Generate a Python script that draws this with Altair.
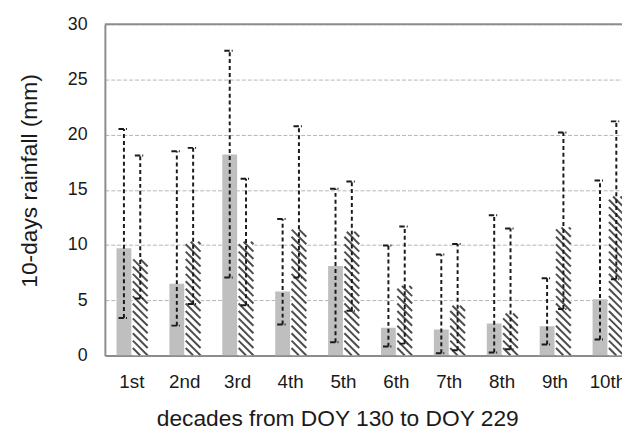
import altair as alt
import pandas as pd

categories = ["1st", "2nd", "3rd", "4th", "5th", "6th", "7th", "8th", "9th", "10th"]

gray_mean = [9.7, 6.5, 18.2, 5.8, 8.1, 2.5, 2.35, 2.9, 2.65, 5.1]
gray_lo = [3.4, 2.7, 7.05, 2.8, 1.2, 0.8, 0.2, 0.27, 1.0, 1.45]
gray_hi = [20.5, 18.5, 27.6, 12.35, 15.1, 9.95, 9.15, 12.7, 7.0, 15.85]

hatch_mean = [8.7, 10.3, 10.3, 11.4, 11.2, 6.3, 4.5, 3.8, 11.6, 14.4]
hatch_lo = [5.15, 4.65, 4.55, 7.05, 4.05, 1.07, 0.47, 0.57, 4.2, 6.9]
hatch_hi = [18.1, 18.8, 16.0, 20.75, 15.75, 11.67, 10.1, 11.5, 20.2, 21.2]

y_ticks = [0, 5, 10, 15, 20, 25, 30]

# layout (pixels)
RANGE_W = 535                # full category range (extends past the window edge)
VIEW_W = 523                 # visible plot width
H_PLOT = 335
PXX = RANGE_W / 10.0         # pixels per category step
PXY = H_PLOT / 30.0          # pixels per mm
BAR_W = 15
G0 = -15.0                   # gray bar left offset from group centre
H0 = 1.5                     # hatched bar left offset from group centre
STRIPE = 7.5

FONT = "Liberation Sans"
TXT = "#1a1a1a"
BORDER = "#8c8c8c"

idx = list(range(1, len(categories) + 1))
gray_df = pd.DataFrame({"idx": idx, "cat": categories, "val": gray_mean, "lo": gray_lo, "hi": gray_hi})
hatch_df = pd.DataFrame({"idx": idx, "cat": categories, "val": hatch_mean, "lo": hatch_lo, "hi": hatch_hi})

x_scale = alt.Scale(domain=[0.5, 10.5], range=[0, RANGE_W], nice=False, zero=False)
y_scale = alt.Scale(domain=[0, 30], nice=False)

label_expr = "[" + ",".join("'%s'" % c for c in categories) + "][datum.value - 1]"

x_axis = alt.Axis(
    values=idx, labelExpr=label_expr, grid=False, ticks=False, tickSize=0,
    domainColor=BORDER, domainWidth=2,
    labelFont=FONT, labelFontSize=19, labelColor=TXT,
    labelBaseline="alphabetic", labelPadding=32, labelAngle=0,
    title="decades from DOY 130 to DOY 229",
    titleFont=FONT, titleFontSize=23, titleFontWeight="normal", titleColor=TXT,
    titleX=235, titleY=71, titleBaseline="alphabetic", titleAlign="center",
)
y_axis = alt.Axis(
    values=y_ticks, grid=True, gridDash=[4, 2], gridColor="#b5b5b5", gridWidth=1,
    ticks=False, tickSize=0, domainColor=BORDER, domainWidth=2,
    labelFont=FONT, labelFontSize=18, labelColor=TXT, labelPadding=18,
    title="10-days rainfall (mm)",
    titleFont=FONT, titleFontSize=23, titleFontWeight="normal", titleColor=TXT,
    titleX=-69.5, titleY=158, titleAngle=270, titleBaseline="alphabetic", titleAlign="center",
)


def X(field):
    return alt.X(field, scale=x_scale, axis=x_axis)


def Y(field):
    return alt.Y(field, scale=y_scale, axis=y_axis)


# gray bars
gray_bars = alt.Chart(gray_df).transform_calculate(
    bx1=f"datum.idx + {G0}/{PXX}", bx2=f"datum.idx + {G0 + BAR_W}/{PXX}", base="0"
).mark_bar(color="#bfbfbf", clip=True).encode(
    x=X("bx1:Q"), x2="bx2:Q", y=Y("val:Q"), y2="base:Q",
)

# hatched bars: white background
hatch_bg = alt.Chart(hatch_df).transform_calculate(
    bx1=f"datum.idx + {H0}/{PXX}", bx2=f"datum.idx + {H0 + BAR_W}/{PXX}", base="0"
).mark_bar(color="white", clip=True).encode(
    x=X("bx1:Q"), x2="bx2:Q", y=Y("val:Q"), y2="base:Q",
)

# hatch stripes derived from each hatched bar's height
stripes = alt.Chart(hatch_df).transform_calculate(
    H=f"datum.val * {PXY}"
).transform_calculate(
    ks=f"sequence(1, ceil((datum.H + {BAR_W}) / {STRIPE}) + 1)"
).transform_flatten(["ks"]).transform_calculate(
    c=f"datum.ks * {STRIPE}"
).transform_calculate(
    u1="max(0, datum.c - datum.H)", u2=f"min({BAR_W}, datum.c)"
).transform_filter("datum.u1 < datum.u2").transform_calculate(
    sx=f"datum.idx + ({H0} + datum.u1) / {PXX}",
    sx2=f"datum.idx + ({H0} + datum.u2) / {PXX}",
    sy=f"(datum.c - datum.u1) / {PXY}",
    sy2=f"(datum.c - datum.u2) / {PXY}",
).mark_rule(color="#4d4d4d", strokeWidth=2, clip=True).encode(
    x=X("sx:Q"), x2="sx2:Q", y=Y("sy:Q"), y2="sy2:Q",
)


def err_layers(df, centre):
    line = alt.Chart(df).transform_calculate(
        cx=f"datum.idx + {centre}/{PXX}"
    ).mark_rule(color=TXT, strokeWidth=2, strokeDash=[4, 3], clip=True).encode(
        x=X("cx:Q"), y=Y("lo:Q"), y2="hi:Q",
    )
    caps = alt.Chart(df).transform_fold(["lo", "hi"], as_=["end", "v"]).transform_calculate(
        c1=f"datum.idx + ({centre} - 5.5)/{PXX}", c2=f"datum.idx + ({centre} + 3)/{PXX}"
    ).mark_rule(color=TXT, strokeWidth=2, strokeDash=[5.5, 2], clip=True).encode(
        x=X("c1:Q"), x2="c2:Q", y=Y("v:Q"),
    )
    return [line, caps]


top_border = alt.Chart(pd.DataFrame({"top": [y_ticks[-1]]})).mark_rule(
    color=BORDER, strokeWidth=2
).encode(y=Y("top:Q"))

layers = [gray_bars, hatch_bg, stripes]
layers += err_layers(gray_df, G0 + BAR_W / 2)
layers += err_layers(hatch_df, H0 + BAR_W / 2)
layers += [top_border]

chart = alt.layer(*layers).properties(
    width=VIEW_W,
    height=H_PLOT,
    autosize=alt.AutoSizeParams(type="none"),
    padding={"left": 98, "top": 14, "right": 0, "bottom": 73},
    background="white",
).configure_view(stroke=None)

chart.save("out.html", embed_options={"renderer": "svg", "actions": False})
